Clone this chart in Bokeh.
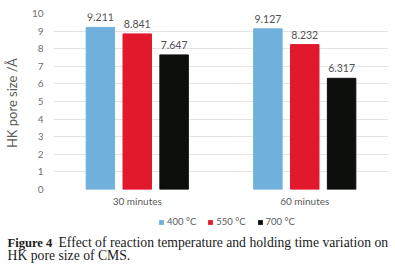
from bokeh.plotting import figure
from bokeh.models import ColumnDataSource, FactorRange, Legend, LegendItem, Label, SingleIntervalTicker
from bokeh.layouts import column
from bokeh.transform import dodge
from bokeh.embed import file_html
from bokeh.resources import INLINE
from bokeh.core.properties import value

categories = ["30 minutes", "60 minutes"]
series_names = ["400 °C", "550 °C", "700 °C"]
vals_400 = [9.211, 9.127]
vals_550 = [8.841, 8.232]
vals_700 = [7.647, 6.317]
colors = ["#70b0dc", "#e2192c", "#0d0f0c"]
y_label = "HK pore  size /Å"
caption_bold = "Figure 4"
caption_line1 = "Effect of reaction temperature and holding time variation on"
caption_line2 = "HK pore size of CMS."

FONT = "Lato"

src = ColumnDataSource(dict(
    cat=categories, v400=vals_400, v550=vals_550, v700=vals_700,
    t400=[f"{v:.3f}" for v in vals_400],
    t550=[f"{v:.3f}" for v in vals_550],
    t700=[f"{v:.3f}" for v in vals_700],
))

p = figure(width=395, height=211, x_range=FactorRange(*categories), y_range=(0, 10),
           output_backend="svg", toolbar_location=None,
           min_border_left=53, min_border_right=7, min_border_top=13, min_border_bottom=22)
p.frame_align = False
p.outline_line_color = None
p.x_range.range_padding = 0
p.x_range.factor_padding = 0

offsets = [-0.22, 0.0, 0.22]
for key, off, col in zip(["400", "550", "700"], offsets, colors):
    p.vbar(x=dodge("cat", off, range=p.x_range), top="v" + key, width=0.17, source=src,
           fill_color=col, line_color=col)
    p.text(x=dodge("cat", off, range=p.x_range), y="v" + key, text="t" + key, source=src,
           text_align="center", text_baseline="middle", y_offset=-10,
           text_font_size="10.5px", text_color="#505050", text_font=value(FONT))

p.xgrid.grid_line_color = None
p.ygrid.grid_line_color = "#e4e4e4"
p.yaxis.ticker = SingleIntervalTicker(interval=1)
for ax in (p.xaxis, p.yaxis):
    ax.axis_line_color = None
    ax.major_tick_line_color = None
    ax.minor_tick_line_color = None
    ax.major_tick_out = 0
    ax.major_tick_in = 0
    ax.minor_tick_out = 0
    ax.major_label_text_font = FONT
    ax.major_label_text_font_size = "10px"

p.yaxis.major_label_standoff = 10
p.yaxis.major_label_text_color = "#707070"
p.yaxis.axis_label = y_label
p.yaxis.axis_label_text_font = FONT
p.yaxis.axis_label_text_font_style = "normal"
p.yaxis.axis_label_text_font_size = "13px"
p.yaxis.axis_label_text_color = "#5a5a5a"
p.yaxis.axis_label_standoff = 9

p.xaxis.major_label_standoff = 5
p.xaxis.major_label_text_color = "#5a5a5a"

# bottom strip: legend + caption
cap = figure(width=395, height=56, x_range=(0, 1), y_range=(0, 1),
             output_backend="svg", toolbar_location=None,
             min_border_left=0, min_border_right=0, min_border_top=0, min_border_bottom=0)
cap.frame_align = False
cap.axis.visible = False
cap.grid.grid_line_color = None
cap.outline_line_color = None

leg_renderers = [cap.vbar(x=[0.5], top=[0], width=0.01, fill_color=c, line_color=None) for c in colors]
legend = Legend(items=[LegendItem(label=n, renderers=[r]) for n, r in zip(series_names, leg_renderers)],
                orientation="horizontal", location=(158, 40),
                label_text_font=FONT, label_text_font_size="9.5px", label_text_color="#5a5a5a",
                glyph_width=6, glyph_height=6, label_standoff=3, spacing=11,
                label_height=10, border_line_color=None, background_fill_alpha=0,
                padding=0, margin=0)
cap.add_layout(legend, "center")

cap.add_layout(Label(x=7, y=25, x_units="screen", y_units="screen", text=caption_bold,
                     text_font="Liberation Serif", text_font_style="bold", text_font_size="12.6px",
                     text_baseline="middle", text_color="#1a1a1a"))
cap.add_layout(Label(x=58, y=25, x_units="screen", y_units="screen", text=caption_line1,
                     text_font="Liberation Serif", text_font_size="13.7px",
                     text_baseline="middle", text_color="#1a1a1a"))
cap.add_layout(Label(x=7, y=12, x_units="screen", y_units="screen", text=caption_line2,
                     text_font="Liberation Serif", text_font_size="13.7px",
                     text_baseline="middle", text_color="#1a1a1a"))

layout = column(p, cap, spacing=0)
open("out.html", "w").write(file_html(layout, INLINE))
